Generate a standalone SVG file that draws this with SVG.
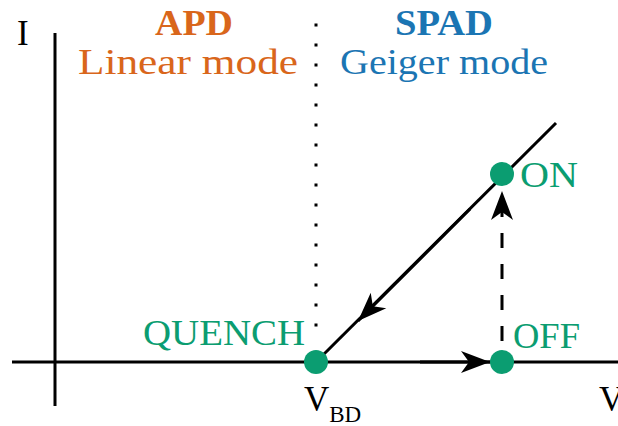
<svg xmlns="http://www.w3.org/2000/svg" width="618" height="426" viewBox="0 0 618 426">
<style>
text{font-family:'Liberation Serif',serif;font-size:35px}
.o{fill:#D9661B}
.b{fill:#1B75B3}
.g{fill:#0B9D71}
.k{fill:#000}
.ax{stroke:#000;stroke-width:3;fill:none}
</style>
<defs>
<marker id="arr" markerUnits="userSpaceOnUse" viewBox="-30 -12 32 24" refX="0" refY="0" markerWidth="32" markerHeight="24" orient="auto">
<path d="M0,0 L-29,-11 L-21,0 L-29,11 Z" fill="#000"/>
</marker>
</defs>
<g id="axes">
<line class="ax" x1="55" y1="33" x2="55" y2="406"/>
<line class="ax" x1="12" y1="362" x2="618" y2="362"/>
<text class="k" x="17" y="45">I</text>
<text class="k" x="599" y="411">V</text>
</g>
<g id="divider">
<line x1="316" y1="23.5" x2="316" y2="342" stroke="#000" stroke-width="3" stroke-dasharray="3 17"/>
</g>
<g id="labels">
<text class="o" x="194" y="35" text-anchor="middle" font-weight="bold" textLength="78" lengthAdjust="spacingAndGlyphs">APD</text>
<text class="o" x="188" y="74" text-anchor="middle" textLength="220" lengthAdjust="spacingAndGlyphs">Linear mode</text>
<text class="b" x="444" y="35" text-anchor="middle" font-weight="bold" textLength="98" lengthAdjust="spacingAndGlyphs">SPAD</text>
<text class="b" x="444" y="74" text-anchor="middle" textLength="208" lengthAdjust="spacingAndGlyphs">Geiger mode</text>
</g>
<g id="connectors">
<line class="ax" x1="556" y1="123" x2="316" y2="362"/>
<line class="ax" x1="470" y1="209" x2="358" y2="321" marker-end="url(#arr)"/>
<line class="ax" x1="420" y1="362" x2="490" y2="362" marker-end="url(#arr)"/>
<line class="ax" x1="502" y1="341" x2="502" y2="205" stroke-dasharray="15 16"/>
<line x1="502" y1="215" x2="502" y2="191" stroke="none" marker-end="url(#arr)"/>
</g>
<g id="quench">
<circle cx="316" cy="362" r="12" class="g"/>
<text class="g" x="143" y="345" textLength="162" lengthAdjust="spacingAndGlyphs">QUENCH</text>
</g>
<g id="off">
<circle cx="502" cy="362" r="12" class="g"/>
<text class="g" x="513" y="348" textLength="67" lengthAdjust="spacingAndGlyphs">OFF</text>
</g>
<g id="on">
<circle cx="502" cy="174" r="12" class="g"/>
<text class="g" x="520" y="187" textLength="58" lengthAdjust="spacingAndGlyphs">ON</text>
</g>
<g id="vbd">
<text class="k" x="304" y="411">V<tspan font-size="23" dy="11">BD</tspan></text>
</g>
</svg>
